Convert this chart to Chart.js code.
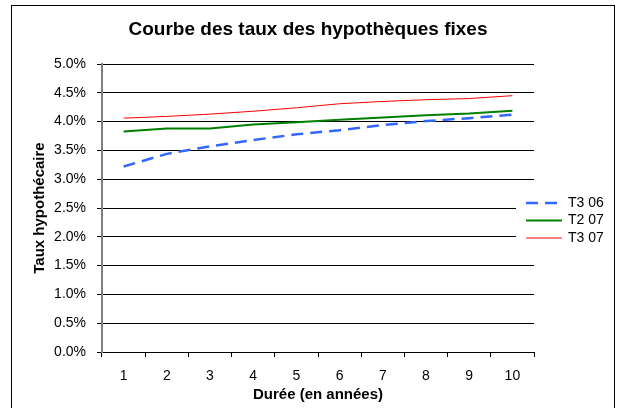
<!DOCTYPE html>
<html lang="fr">
  <head>
    <meta charset="UTF-8" />
    <title>Courbe des taux</title>
    <style>
      body { margin: 0; background: #fff; }
      .cadre {
        position: absolute; left: 11px; top: 5px;
        width: 604px; height: 420px;
        border: 1px solid #000; box-sizing: border-box;
      }
      #graph { position: absolute; left: 0; top: 0; }
    </style>
  </head>
  <body>
    <div class="cadre"></div>
    <canvas id="graph" width="618" height="408"></canvas>
  </body>
</html>
<script src="https://cdn.jsdelivr.net/npm/chart.js"></script>
<script>
  // valeurs (en %)
  var durees = ["1", "2", "3", "4", "5", "6", "7", "8", "9", "10"];
  var t3_06 = [3.22, 3.44, 3.57, 3.68, 3.78, 3.85, 3.94, 4.01, 4.06, 4.12];
  var t2_07 = [3.83, 3.88, 3.88, 3.95, 3.99, 4.03, 4.07, 4.11, 4.14, 4.19];
  var t3_07 = [4.06, 4.09, 4.13, 4.18, 4.24, 4.31, 4.35, 4.38, 4.40, 4.45];
  var noms = ["T3 06", "T2 07", "T3 07"];
  var titre = "Courbe des taux des hypothèques fixes";

  var police = "'Liberation Sans', Arial, sans-serif";
  Chart.defaults.font.family = police;
  Chart.defaults.color = "#000";

  // titre centre sur tout le cadre + legende posee sur la zone du graphique (comme Excel)
  const decorExcel = {
    id: "decorExcel",
    afterDraw(chart) {
      const ctx = chart.ctx;
      ctx.save();
      ctx.fillStyle = "#000";
      ctx.font = "bold 19px " + police;
      ctx.textAlign = "center";
      ctx.textBaseline = "alphabetic";
      ctx.fillText(titre, 308, 35);

      ctx.fillStyle = "#fff";
      ctx.fillRect(516, 192, 98, 56);
      ctx.textAlign = "left";
      chart.data.datasets.forEach(function (ds, i) {
        var y = 203 + i * 17.5;
        ctx.strokeStyle = ds.borderColor;
        ctx.lineWidth = ds.borderWidth;
        ctx.setLineDash(ds.borderDash || []);
        ctx.beginPath();
        ctx.moveTo(526, y);
        ctx.lineTo(562, y);
        ctx.stroke();
        ctx.setLineDash([]);
        ctx.fillStyle = "#000";
        ctx.font = "14px " + police;
        ctx.textBaseline = "middle";
        ctx.fillText(ds.label, 568, y);
      });
      ctx.restore();
    },
  };

  const data = {
    labels: durees,
    datasets: [
      {
        label: noms[0],
        data: t3_06,
        borderColor: "#3366ff",
        borderWidth: 2.5,
        borderDash: [12, 7],
        pointRadius: 0,
      },
      {
        label: noms[1],
        data: t2_07,
        borderColor: "#008000",
        borderWidth: 2,
        pointRadius: 0,
      },
      {
        label: noms[2],
        data: t3_07,
        borderColor: "#ff0000",
        borderWidth: 1,
        pointRadius: 0,
      },
    ],
  };

  const config = {
    type: "line",
    data: data,
    options: {
      responsive: false,
      animation: false,
      layout: { padding: { left: 27, right: 84, top: 64, bottom: 0 } },
      plugins: {
        legend: { display: false },
        tooltip: { enabled: false },
        title: { display: false },
      },
      scales: {
        x: {
          offset: true,
          grid: {
            offset: true,
            drawOnChartArea: false,
            tickLength: 5,
            color: "#000",
          },
          border: { color: "#000", width: 1 },
          ticks: { font: { size: 14 }, padding: 11, maxRotation: 0 },
          title: {
            display: true,
            text: "Durée (en années)",
            font: { size: 15, weight: "bold" },
            padding: { top: 2, bottom: 4 },
          },
          afterFit: function (scale) {
            scale.height = 56;
          },
        },
        y: {
          min: 0,
          max: 5,
          grid: { color: "#000", tickLength: 5 },
          border: { color: "#808080", width: 2 },
          ticks: {
            stepSize: 0.5,
            padding: 11,
            font: { size: 14 },
            callback: function (v) {
              return v.toFixed(1) + "%";
            },
          },
          title: {
            display: true,
            text: "Taux hypothécaire",
            font: { size: 15, weight: "bold" },
            padding: { top: 4, bottom: 4 },
          },
          afterFit: function (scale) {
            scale.width = 75;
          },
        },
      },
    },
    plugins: [decorExcel],
  };

  const graph = new Chart(document.getElementById("graph"), config);
</script>
